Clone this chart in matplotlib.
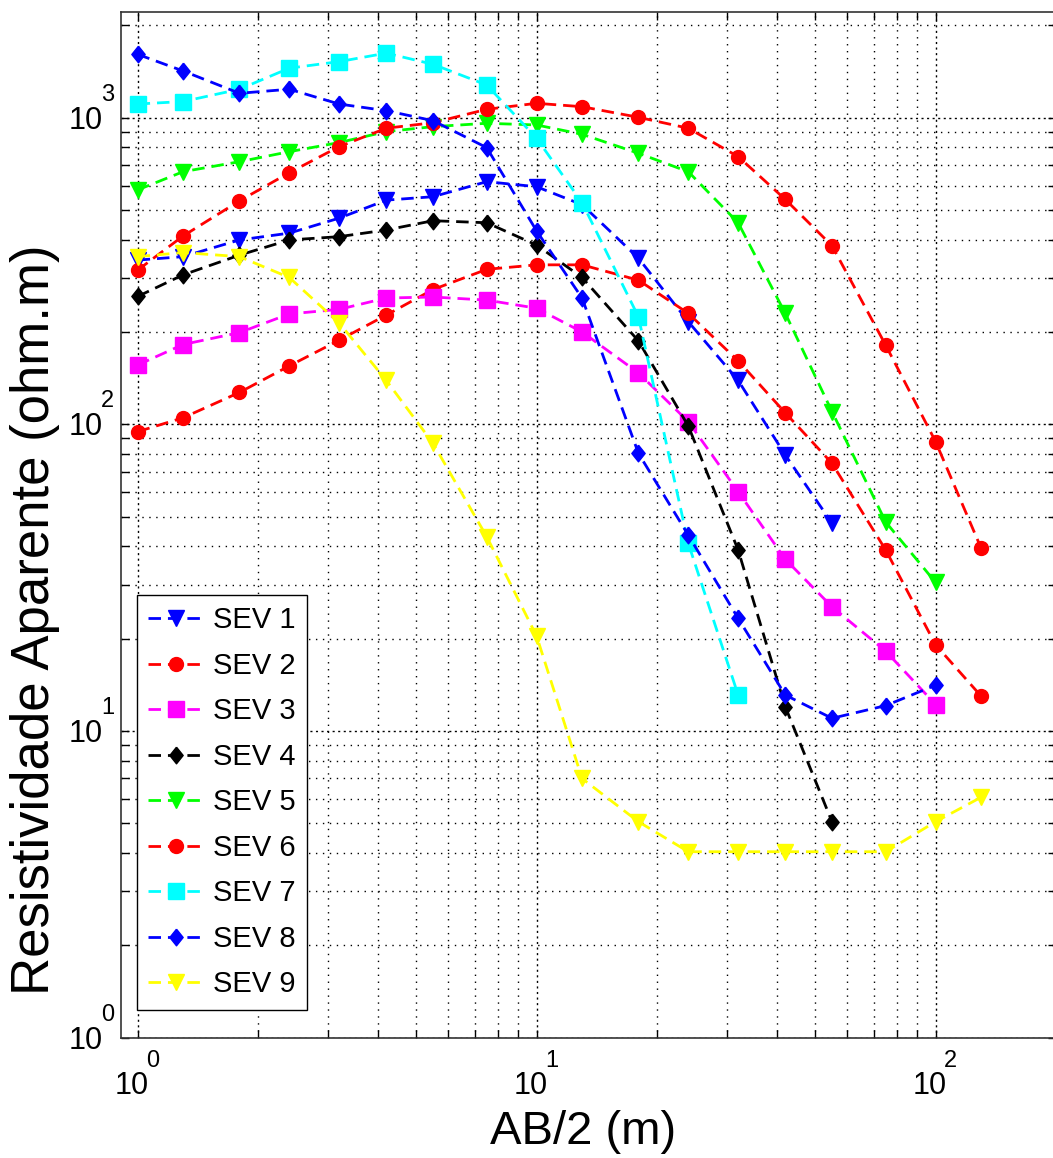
import matplotlib
matplotlib.use('Agg')
import matplotlib.pyplot as plt
from matplotlib import font_manager
from matplotlib.ticker import LogLocator, NullFormatter

# AB/2 spacing (m)
ab2 = [1, 1.3, 1.8, 2.4, 3.2, 4.2, 5.5, 7.5, 10, 13, 18, 24, 32, 42, 55, 75, 100, 130]

# apparent resistivity (ohm.m) per sounding
sev1 = [343, 352, 399, 420, 470, 538, 552, 618, 595, 520, 348, 216, 139, 79.4, 47.6]
sev2 = [94.6, 105, 127, 155, 188, 227, 275, 320, 331, 331, 295, 230, 161, 109, 74.6, 38.9, 19.1, 13.0]
sev3 = [156, 182, 199, 229, 237, 258, 260, 254, 239, 200, 147, 102, 60.3, 36.3, 25.4, 18.2, 12.2]
sev4 = [261, 307, 356, 399, 409, 430, 461, 454, 384, 301, 187, 98.7, 38.9, 12.0, 5.06]
sev5 = [581, 666, 718, 774, 829, 900, 934, 958, 946, 882, 765, 666, 454, 230, 110, 48, 30.5]
sev6 = [318, 411, 535, 661, 804, 923, 962, 1064, 1113, 1085, 1002, 923, 746, 541, 382, 181, 87.8, 39.5]
sev7 = [1107, 1128, 1237, 1449, 1522, 1622, 1492, 1277, 856, 528, 224, 40.9, 13.1]
sev8 = [1608, 1419, 1200, 1237, 1107, 1053, 977, 798, 427, 258, 80.4, 43.5, 23.3, 13.1, 11.0, 12.1, 14.1]
sev9 = [352, 363, 352, 301, 214, 139, 86.7, 43, 20.4, 7.0, 5.06, 4.04, 4.04, 4.04, 4.04, 4.04, 5.06, 6.08]

labels = ['SEV 1', 'SEV 2', 'SEV 3', 'SEV 4', 'SEV 5', 'SEV 6', 'SEV 7', 'SEV 8', 'SEV 9']
colors = ['#0000ff', '#ff0000', '#ff00ff', '#000000', '#00ff00', '#ff0000', '#00ffff', '#0000ff', '#ffff00']
markers = ['v', 'o', 's', 'diamond', 'v', 'o', 's', 'diamond', 'v']

diamond = [(0, 1), (0.8, 0), (0, -1), (-0.8, 0), (0, 1)]
marker_size = {'v': 12, 'o': 10, 's': 11, 'diamond': 12}

names = {f.name for f in font_manager.fontManager.ttflist}
sans = 'Liberation Sans' if 'Liberation Sans' in names else 'DejaVu Sans'
narrow = 'Liberation Sans Narrow' if 'Liberation Sans Narrow' in names else sans
plt.rcParams['font.family'] = [sans, 'DejaVu Sans']

W, H = 1053, 1158
fig = plt.figure(figsize=(W / 100, H / 100), dpi=100)
ax = fig.add_axes([121 / W, (H - 1037.7) / H, (1055.7 - 121) / W, (1037.7 - 12.3) / H])

series = [sev1, sev2, sev3, sev4, sev5, sev6, sev7, sev8, sev9]
for vals, lab, col, mk in zip(series, labels, colors, markers):
    m = diamond if mk == 'diamond' else mk
    ax.plot(ab2[:len(vals)], vals, linestyle=(0, (4.5, 2.5)), linewidth=2, color=col,
            marker=m, markersize=marker_size[mk], markerfacecolor=col, markeredgecolor=col,
            label=lab)

ax.set_xscale('log')
ax.set_yscale('log')
ax.set_xlim(0.9087, 200)
ax.set_ylim(1, 2204)

for axis in (ax.xaxis, ax.yaxis):
    axis.set_major_locator(LogLocator(base=10))
    axis.set_minor_locator(LogLocator(base=10, subs=range(2, 10)))
    axis.set_major_formatter(NullFormatter())
    axis.set_minor_formatter(NullFormatter())

ax.grid(True, which='major', color='k', linestyle=(0, (1.5, 2.5)), linewidth=1.0)
ax.grid(True, which='minor', color='k', linestyle=(0, (1, 4)), linewidth=1.0)
ax.tick_params(which='both', direction='in', top=True, right=True, length=6, width=1)
for s in ax.spines.values():
    s.set_linewidth(1.2)
    s.set_color('#333333')

# matlab style 10^n labels
px = 0.72
for d, e in [(1, '0'), (10, '1'), (100, '2')]:
    ax.annotate('10', xy=(d, 0), xycoords=('data', 'axes fraction'), xytext=(-6 * px, -48 * px),
                textcoords='offset points', ha='center', va='center', fontsize=22, family=narrow)
    ax.annotate(e, xy=(d, 0), xycoords=('data', 'axes fraction'), xytext=(15 * px, -23 * px),
                textcoords='offset points', ha='center', va='center', fontsize=17, family=narrow)
for d, e in [(1, '0'), (10, '1'), (100, '2'), (1000, '3')]:
    ax.annotate('10', xy=(0, d), xycoords=('axes fraction', 'data'), xytext=(-35 * px, -3 * px),
                textcoords='offset points', ha='center', va='center', fontsize=22, family=narrow)
    ax.annotate(e, xy=(0, d), xycoords=('axes fraction', 'data'), xytext=(-13.5 * px, 23 * px),
                textcoords='offset points', ha='center', va='center', fontsize=17, family=narrow)

ax.set_xlabel('AB/2 (m)', fontsize=34, family=narrow, va='center')
ax.xaxis.set_label_coords(0.494, -0.092)
ax.set_ylabel('Resistividade Aparente (ohm.m)', fontsize=38, va='center')
ax.yaxis.set_label_coords(-0.092, 0.408)

leg = ax.legend(loc='lower left', bbox_to_anchor=(0.0168, 0.027), borderaxespad=0,
                fontsize=21, handlelength=1.9, handletextpad=0.3, labelspacing=0.6,
                borderpad=0.4, fancybox=False, framealpha=1, edgecolor='k')
leg.get_frame().set_linewidth(1.0)

fig.savefig('out.png', dpi=100)
